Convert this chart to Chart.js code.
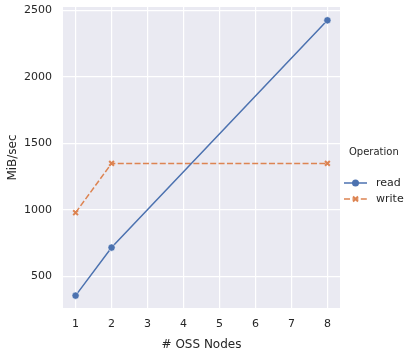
<!DOCTYPE html>
<html>
<head>
<meta charset="utf-8">
<script src="https://cdn.jsdelivr.net/npm/chart.js@4/dist/chart.umd.min.js"></script>
<style>
  html, body { margin: 0; padding: 0; background: #fff; }
  #wrap { width: 413px; height: 352px; position: relative; }
</style>
</head>
<body>
<div id="wrap"><canvas id="myChart"></canvas></div>
<script>
// data
const nodes = [1, 2, 8]
const readVals = [357, 718, 2425]
const writeVals = [980, 1350, 1350]
const xTicks = [1, 2, 3, 4, 5, 6, 7, 8]
const yTicks = [500, 1000, 1500, 2000, 2500]
const legendTitle = 'Operation'

const textColor = '#262626'
const font = 'DejaVu Sans'

// grey panel behind the plot
const panelBg = {
    id: 'panelBg',
    beforeDraw(chart) {
        const a = chart.chartArea
        const ctx = chart.ctx
        ctx.save()
        ctx.fillStyle = '#EAEAF2'
        ctx.fillRect(a.left, a.top, a.right - a.left, a.bottom - a.top)
        ctx.restore()
    }
}

// seaborn-like legend at the right, line + marker glyphs
const sideLegend = {
    id: 'sideLegend',
    afterDraw(chart) {
        const ctx = chart.ctx
        ctx.save()
        ctx.fillStyle = textColor
        ctx.font = '10px "' + font + '"'
        ctx.textBaseline = 'middle'
        ctx.textAlign = 'left'
        ctx.fillText(legendTitle, 349, 152)
        const rows = [183, 199]
        chart.data.datasets.forEach((ds, i) => {
            const y = rows[i]
            ctx.strokeStyle = ds.borderColor
            ctx.lineWidth = 1.5
            ctx.setLineDash(ds.borderDash || [])
            ctx.beginPath()
            ctx.moveTo(344, y)
            ctx.lineTo(367, y)
            ctx.stroke()
            ctx.setLineDash([])
            if (ds.pointStyle === 'circle') {
                ctx.fillStyle = ds.borderColor
                ctx.beginPath()
                ctx.arc(355.5, y, 3.5, 0, Math.PI * 2)
                ctx.fill()
            } else {
                ctx.strokeStyle = ds.borderColor
                ctx.lineWidth = 2
                ctx.beginPath()
                ctx.moveTo(353, y - 2.5); ctx.lineTo(358, y + 2.5)
                ctx.moveTo(358, y - 2.5); ctx.lineTo(353, y + 2.5)
                ctx.stroke()
            }
            ctx.fillStyle = textColor
            ctx.font = '11px "' + font + '"'
            ctx.fillText(ds.label, 376, y)
        })
        ctx.restore()
    }
}

let dataset = {
    datasets: [{
        label: 'read',
        borderColor: '#4C72B0',
        backgroundColor: '#4C72B0',
        data: nodes.map((x, i) => ({ x: x, y: readVals[i] })),
        borderWidth: 1.5,
        pointStyle: 'circle',
        pointRadius: 3.6,
        pointBorderColor: '#ffffff',
        pointBorderWidth: 0.5
    }, {
        label: 'write',
        borderColor: '#DD8452',
        backgroundColor: '#DD8452',
        data: nodes.map((x, i) => ({ x: x, y: writeVals[i] })),
        borderWidth: 1.5,
        borderDash: [6, 2.4],
        pointStyle: 'crossRot',
        pointRadius: 3.4,
        pointBorderWidth: 2
    }]
}

let config = {
    type: 'line',
    data: dataset,
    options: {
        responsive: true,
        maintainAspectRatio: false,
        animation: false,
        layout: { padding: { top: 7, right: 73, left: 0, bottom: 0 } },
        plugins: {
            legend: { display: false },
            tooltip: { enabled: false }
        },
        scales: {
            x: {
                type: 'linear',
                min: 0.65,
                max: 8.35,
                afterBuildTicks: (s) => { s.ticks = xTicks.map(v => ({ value: v })) },
                afterFit: (s) => { s.height = 44; s.paddingLeft = 0; s.paddingRight = 0 },
                grid: { color: '#ffffff', lineWidth: 1.2, drawTicks: false },
                border: { display: false },
                ticks: { color: textColor, font: { family: font, size: 11 }, padding: 10, maxRotation: 0,
                    callback: (v) => String(v) },
                title: { display: true, text: '# OSS Nodes', color: textColor, font: { family: font, size: 12 }, padding: { top: 5.5, bottom: 0 } }
            },
            y: {
                type: 'linear',
                min: 264,
                max: 2525,
                afterBuildTicks: (s) => { s.ticks = yTicks.map(v => ({ value: v })) },
                afterFit: (s) => { s.width = 63; s.paddingTop = 0; s.paddingBottom = 0 },
                grid: { color: '#ffffff', lineWidth: 1.2, drawTicks: false },
                border: { display: false },
                ticks: { color: textColor, font: { family: font, size: 11 }, padding: 11,
                    callback: (v) => String(v) },
                title: { display: true, text: 'MiB/sec', color: textColor, font: { family: font, size: 12 }, padding: { top: 6, bottom: 0 } }
            }
        }
    },
    plugins: [panelBg, sideLegend]
}

let myChart = new Chart(
    document.getElementById('myChart'),
    config
)
</script>
</body>
</html>
